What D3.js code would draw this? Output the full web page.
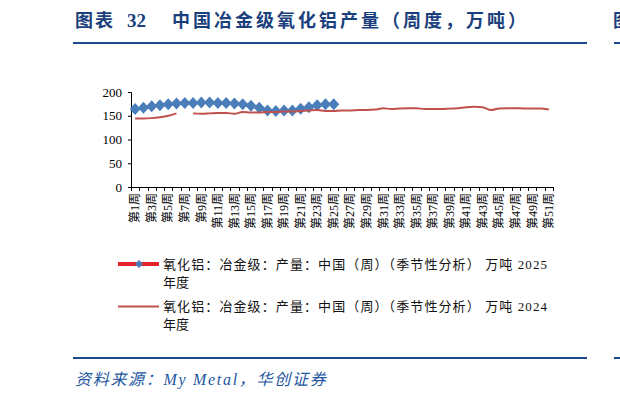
<!DOCTYPE html>
<html>
<head>
<meta charset="utf-8">
<script src="https://cdn.jsdelivr.net/npm/d3@7"></script>
<style>
  body { margin:0; background:#fff; }
  svg { display:block; }
  .ser { font-family:"Liberation Serif","Noto Sans CJK SC",serif; }
</style>
</head>
<body>
<svg width="620" height="398"></svg>
<script>
// categories: weeks of the year
var weeks = ["第1周","第2周","第3周","第4周","第5周","第6周","第7周","第8周","第9周","第10周",
  "第11周","第12周","第13周","第14周","第15周","第16周","第17周","第18周","第19周","第20周",
  "第21周","第22周","第23周","第24周","第25周","第26周","第27周","第28周","第29周","第30周",
  "第31周","第32周","第33周","第34周","第35周","第36周","第37周","第38周","第39周","第40周",
  "第41周","第42周","第43周","第44周","第45周","第46周","第47周","第48周","第49周","第50周",
  "第51周"];

// 2025 (weeks 1-25), 万吨
var val2025 = [164,167,170,172,174,176,177,177,178,178,177,177,176,174,171,167,161,160,161,161,
  165,168,172,174,174];

// 2024 (week 7 missing)
var val2024 = [144,144,145,147,150,155,null,155,154,155,156,156,154,158,157,157,158,158,159,159,
  160,161,162,160,160,161,161,162,162,163,166,164,165.5,166,166,164,164,164,165,166,
  168,169,168,162,165.5,166,166,165.5,165.5,165.5,163];

var yTicks = [0,50,100,150,200];

var title1 = "图表";
var title2 = "32";
var title3 = "中国冶金级氧化铝产量（周度，万吨）";
var legend1 = "氧化铝：冶金级：产量：中国（周）（季节性分析） 万吨 2025";
var legend2 = "氧化铝：冶金级：产量：中国（周）（季节性分析） 万吨 2024";
var legendWrap = "年度";
var source = "资料来源：My Metal，华创证券";

var svg = d3.select("svg");
var navy = "#1b3f7c";

// header
svg.append("text").attr("x",75).attr("y",27)
  .style("font-family","'Noto Sans CJK SC'").style("font-weight","bold")
  .style("font-size","18px").style("letter-spacing","2px").style("fill",navy)
  .text(title1);
svg.append("text").attr("x",127).attr("y",27).attr("class","ser")
  .style("font-weight","bold").style("font-size","19px").style("fill",navy)
  .text(title2);
svg.append("text").attr("x",172).attr("y",27)
  .style("font-family","'Noto Sans CJK SC'").style("font-weight","bold")
  .style("font-size","18px").style("letter-spacing","3px").style("fill",navy)
  .text(title3);
svg.append("rect").attr("x",73).attr("y",42).attr("width",514).attr("height",2).style("fill","#1b4a8a");
// next panel edge
svg.append("text").attr("x",613).attr("y",27)
  .style("font-family","'Noto Sans CJK SC'").style("font-weight","bold")
  .style("font-size","18px").style("fill",navy).text("图");
svg.append("rect").attr("x",614).attr("y",42).attr("width",6).attr("height",2).style("fill","#1b4a8a");

// scales
var x = d3.scaleBand().domain(weeks).range([131,553]).padding(0);
var y = d3.scaleLinear().domain([0,200]).range([187,92]);
var bw = x.bandwidth();
var cx = function(i){ return x(weeks[i]) + bw/2; };

// y axis
var yAxis = svg.append("g").attr("transform","translate(131,0)")
  .call(d3.axisLeft(y).tickValues(yTicks).tickSize(3).tickPadding(6));
yAxis.select(".domain").attr("stroke","#000");
yAxis.selectAll("text").attr("class","ser").style("font-size","13px").style("fill","#000");

// x axis line + boundary ticks
svg.append("line").attr("x1",x.range()[0]).attr("x2",x.range()[1])
  .attr("y1",y(0)+0.5).attr("y2",y(0)+0.5).attr("stroke","#000");
var bounds = weeks.map(function(d){ return x(d); }).concat([x.range()[1]]);
svg.selectAll("line.xt").data(bounds).enter().append("line")
  .attr("class","xt")
  .attr("x1",d => Math.round(d)+0.5).attr("x2",d => Math.round(d)+0.5)
  .attr("y1",y(0)).attr("y2",y(0)+4).attr("stroke","#000");

// x labels (every other week)
svg.selectAll("text.xl").data(weeks.filter(function(d,i){ return i%2==0; })).enter()
  .append("text").attr("class","xl ser")
  .attr("transform",d => "translate(" + (x(d)+bw/2) + "," + (y(0)+6) + ") rotate(-90)")
  .attr("text-anchor","end").attr("dy",".35em")
  .style("font-size","12px").style("fill","#000")
  .text(d => d);

// 2025 series
var line = d3.line().defined(d => d != null)
  .x((d,i) => cx(i)).y(d => y(d));
svg.append("path").datum(val2025).attr("d",line)
  .attr("fill","none").attr("stroke","#e3242b").attr("stroke-width",3);
var dia = "M0,-6L5.5,0L0,6L-5.5,0Z";
svg.selectAll("path.dm").data(val2025).enter().append("path")
  .attr("class","dm").attr("d",dia)
  .attr("transform",(d,i) => "translate(" + cx(i) + "," + y(d) + ")")
  .style("fill","#4a7ebb");

// 2024 series
var line24 = d3.line().defined(d => d != null)
  .x((d,i) => cx(i)).y(d => y(d)).curve(d3.curveMonotoneX);
svg.append("path").datum(val2024).attr("d",line24)
  .attr("fill","none").attr("stroke","#c0504d").attr("stroke-width",2);

// legend
var lg = [{txt:legend1, y:264}, {txt:legend2, y:306.5}];
svg.append("line").attr("x1",118).attr("x2",159).attr("y1",lg[0].y).attr("y2",lg[0].y)
  .attr("stroke","#e3242b").attr("stroke-width",4);
svg.append("path").attr("d","M0,-4L4,0L0,4L-4,0Z")
  .attr("transform","translate(139," + lg[0].y + ")").style("fill","#4a7ebb");
svg.append("line").attr("x1",118).attr("x2",159).attr("y1",lg[1].y).attr("y2",lg[1].y)
  .attr("stroke","#c0504d").attr("stroke-width",2);
lg.forEach(function(d){
  svg.append("text").attr("class","ser").attr("x",163).attr("y",d.y).attr("dy",".35em")
    .style("font-size","13px").style("letter-spacing","1.1px").style("fill","#111").text(d.txt);
  svg.append("text").attr("class","ser").attr("x",163).attr("y",d.y+18).attr("dy",".35em")
    .style("font-size","13px").style("fill","#111").text(legendWrap);
});

// footer
svg.append("rect").attr("x",73).attr("y",357).attr("width",514).attr("height",2).style("fill","#1b4a8a");
svg.append("rect").attr("x",614).attr("y",357).attr("width",6).attr("height",2).style("fill","#1b4a8a");
svg.append("text").attr("class","ser").attr("x",75).attr("y",385)
  .style("font-style","italic").style("font-size","16px").style("letter-spacing","1.7px")
  .style("fill","#2456a0").text(source);
</script>
</body>
</html>
